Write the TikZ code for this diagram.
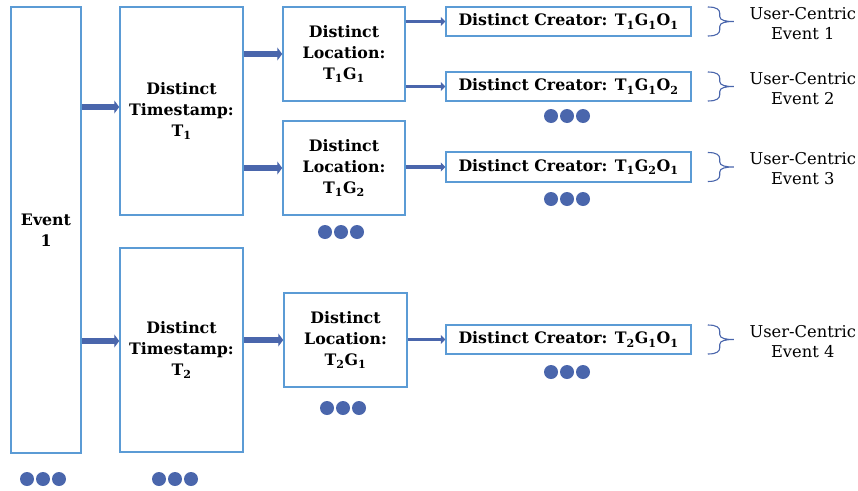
\documentclass[tikz,border=0pt]{standalone}
\usepackage{fontspec}
\setmainfont{DejaVu Serif}
\usetikzlibrary{arrows.meta}
\definecolor{boxc}{HTML}{5B9BD5}
\definecolor{arrc}{HTML}{4A66AC}
\tikzset{
  box/.style={draw=boxc, line width=1.5pt, align=center, inner sep=0pt,
    font=\fontsize{15.8}{21}\selectfont\bfseries},
  bigarr/.style={draw=arrc, line width=5.5pt, -{Triangle[length=5pt,width=13pt]}},
  smallarr/.style={draw=arrc, line width=3.8pt, -{Triangle[length=4.5pt,width=9pt]}},
  brc/.style={draw=arrc, line width=1.1pt},
  lab/.style={align=center, inner sep=0pt, font=\fontsize{16.3}{20}\selectfont},
  dot/.style={fill=arrc}
}
\begin{document}
\begin{tikzpicture}[x=1pt,y=-1pt]
\useasboundingbox (0,0) rectangle (858,490);
% boxes
\node[box, minimum width=70, minimum height=446] (e1) at (46,230) {Event\\1};
\node[box, minimum width=123, minimum height=208] (t1) at (181.5,111) {Distinct\\Timestamp:\\T\textsubscript{1}};
\node[box, minimum width=123, minimum height=204] (t2) at (181.5,350) {Distinct\\Timestamp:\\T\textsubscript{2}};
\node[box, minimum width=122, minimum height=94] (g11) at (344,54) {Distinct\\Location:\\T\textsubscript{1}G\textsubscript{1}};
\node[box, minimum width=122, minimum height=94] (g12) at (344,168) {Distinct\\Location:\\T\textsubscript{1}G\textsubscript{2}};
\node[box, minimum width=123, minimum height=94] (g21) at (345.5,340) {Distinct\\Location:\\T\textsubscript{2}G\textsubscript{1}};
\node[box, minimum width=245, minimum height=29] (c1) at (568.5,21.5) {Distinct Creator: T\textsubscript{1}G\textsubscript{1}O\textsubscript{1}};
\node[box, minimum width=245, minimum height=29] (c2) at (568.5,86.5) {Distinct Creator: T\textsubscript{1}G\textsubscript{1}O\textsubscript{2}};
\node[box, minimum width=245, minimum height=30] (c3) at (568.5,167) {Distinct Creator: T\textsubscript{1}G\textsubscript{2}O\textsubscript{1}};
\node[box, minimum width=245, minimum height=29] (c4) at (568.5,339.5) {Distinct Creator: T\textsubscript{2}G\textsubscript{1}O\textsubscript{1}};
% arrows
\draw[bigarr] ([yshift=4pt]e1.east |- t1.west) -- ([yshift=4pt]t1.west);
\draw[bigarr] ([yshift=9pt]e1.east |- t2.west) -- ([yshift=9pt]t2.west);
\draw[bigarr] (t1.east |- g11.west) -- (g11.west);
\draw[bigarr] (t1.east |- g12.west) -- (g12.west);
\draw[bigarr] (t2.east |- g21.west) -- (g21.west);
\draw[smallarr] (g11.east |- c1.west) -- (c1.west);
\draw[smallarr] (g11.east |- c2.west) -- (c2.west);
\draw[smallarr] (g12.east |- c3.west) -- (c3.west);
\draw[smallarr] (g21.east |- c4.west) -- (c4.west);
% braces and labels
\foreach \c/\n in {c1/1,c2/2,c3/3,c4/4}{
  \begin{scope}[shift={(\c.east)}]
    \draw[brc] (16,-14.5) .. controls (25,-14.5) and (28,-12) .. (28,-8) -- (28,-5)
      .. controls (28,-1) and (34,0) .. (42,0)
      .. controls (34,0) and (28,1) .. (28,5) -- (28,8)
      .. controls (28,12) and (25,14.5) .. (16,14.5);
  \end{scope}
  \node[lab] (u\n) at ([xshift=111pt,yshift=-2pt]\c.east) {User-Centric\\Event \n};
}
% dots
\foreach \x/\y in {27/479, 159/479, 325/232, 327/408, 551/116, 551/199, 551/372}{
  \foreach \d in {0,16,32}{
    \fill[dot] (\x+\d,\y) circle (7);
  }
}
\end{tikzpicture}
\end{document}
